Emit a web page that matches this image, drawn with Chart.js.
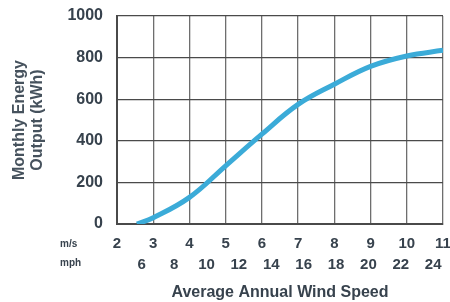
<!DOCTYPE html>
<html>
<head>
<meta charset="utf-8">
<script src="https://cdn.jsdelivr.net/npm/chart.js@4/dist/chart.umd.min.js"></script>
<style>
    body { margin: 0; background: #fff; }
    #wrap { width: 450px; height: 302px; }
</style>
</head>
<body>
<div id="wrap"><canvas id="chartWindEnergy"></canvas></div>
<script>
// wind speed (m/s) and monthly output (kWh)
var windSpeeds = [2.55, 3, 4, 5, 6, 7, 8, 9, 10, 11];
var energyOutput = [0, 30, 128, 280, 432, 575, 672, 758, 808, 835];
var mpsTicks = [2, 3, 4, 5, 6, 7, 8, 9, 10, 11];
var mphTicks = [6, 8, 10, 12, 14, 16, 18, 20, 22, 24];
var yTicks = [0, 200, 400, 600, 800, 1000];
var MPH_PER_MPS = 2.23694;

var textColor = '#37424d';
var fontFamily = '"Liberation Sans", Arial, sans-serif';

// small "m/s" / "mph" captions left of the x labels
var unitLabels = {
    id: 'unitLabels',
    afterDraw: function (chart) {
        var ctx = chart.ctx;
        var xs = chart.scales.x, mph = chart.scales.mph;
        ctx.save();
        ctx.fillStyle = textColor;
        ctx.font = 'bold 10px ' + fontFamily;
        ctx.textAlign = 'left';
        ctx.textBaseline = 'middle';
        ctx.fillText('m/s', 60, xs.top + 20);
        ctx.fillText('mph', 60, mph.top + 11);
        ctx.restore();
    }
};

new Chart(document.getElementById('chartWindEnergy').getContext('2d'), {
    type: 'line',
    data: {
        datasets: [{
            data: windSpeeds.map(function (v, i) { return { x: v, y: energyOutput[i] }; }),
            borderColor: '#3babd8',
            borderWidth: 5,
            pointRadius: 0,
            tension: 0.4,
            fill: false
        }]
    },
    options: {
        responsive: true,
        maintainAspectRatio: false,
        animation: false,
        layout: { padding: { top: 16, right: 7, left: 0, bottom: 0 } },
        plugins: {
            legend: { display: false },
            tooltip: { enabled: false }
        },
        scales: {
            x: {
                type: 'linear',
                position: 'bottom',
                weight: 0,
                min: 2,
                max: 11,
                afterBuildTicks: function (axis) {
                    axis.ticks = mpsTicks.map(function (v) { return { value: v }; });
                },
                afterFit: function (axis) {
                    axis.height = 28;
                    axis.paddingLeft = 0;
                    axis.paddingRight = 0;
                },
                grid: { color: '#6e6e6e', lineWidth: 1.3, drawTicks: false },
                border: { color: '#4a4a4a', width: 2 },
                ticks: {
                    padding: 11,
                    color: textColor,
                    maxRotation: 0,
                    autoSkip: false,
                    font: { family: fontFamily, size: 15, weight: 'bold' },
                    callback: function (v) { return String(v); }
                }
            },
            mph: {
                type: 'linear',
                position: 'bottom',
                weight: 1,
                min: 2 * MPH_PER_MPS,
                max: 11 * MPH_PER_MPS,
                afterBuildTicks: function (axis) {
                    axis.ticks = mphTicks.map(function (v) { return { value: v }; });
                },
                afterFit: function (axis) {
                    axis.height = 50;
                    axis.paddingLeft = 0;
                    axis.paddingRight = 0;
                },
                grid: { display: false, drawTicks: false },
                border: { display: false },
                ticks: {
                    padding: 4,
                    color: textColor,
                    maxRotation: 0,
                    autoSkip: false,
                    font: { family: fontFamily, size: 15, weight: 'bold' },
                    callback: function (v) { return String(v); }
                },
                title: {
                    display: true,
                    text: 'Average Annual Wind Speed',
                    color: textColor,
                    padding: { top: 0, bottom: 0 },
                    font: { family: fontFamily, size: 16, weight: 'bold' }
                }
            },
            y: {
                min: 0,
                max: 1000,
                afterBuildTicks: function (axis) {
                    axis.ticks = yTicks.map(function (v) { return { value: v }; });
                },
                afterFit: function (axis) {
                    axis.width = 117;
                    axis.paddingTop = 0;
                    axis.paddingBottom = 0;
                },
                grid: { color: '#4a4a4a', lineWidth: 1.3, drawTicks: false },
                border: { color: '#4a4a4a', width: 2 },
                ticks: {
                    padding: 14,
                    color: textColor,
                    font: { family: fontFamily, size: 16, weight: 'bold' },
                    callback: function (v) { return String(v); }
                },
                title: {
                    display: true,
                    text: ['Monthly Energy', 'Output (kWh)'],
                    color: '#46525d',
                    padding: { top: 11, bottom: 0 },
                    font: { family: fontFamily, size: 16, weight: 'bold', lineHeight: 1.12 }
                }
            }
        }
    },
    plugins: [unitLabels]
});
</script>
</body>
</html>
